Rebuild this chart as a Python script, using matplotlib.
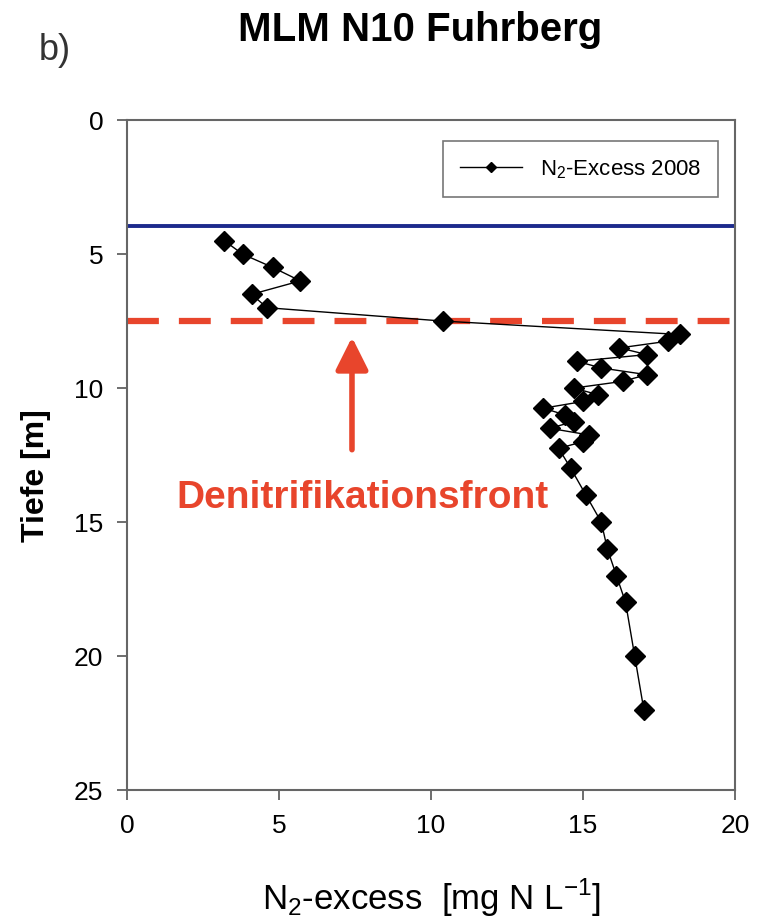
import numpy as np
import matplotlib as mpl
import matplotlib.pyplot as plt

mpl.rc('font', family=['Liberation Sans', 'DejaVu Sans'], size=18)

# N2-excess profile 2008 (mg N/L) against depth (m)
n2_excess = [3.2, 3.8, 4.8, 5.7, 4.1, 4.6, 10.4, 18.2, 17.8, 16.2, 17.1,
             14.8, 15.6, 17.1, 16.3, 14.7, 15.5, 15.0, 13.7, 14.4, 14.7,
             13.9, 15.2, 15.0, 14.2, 14.6, 15.1, 15.6, 15.8, 16.1, 16.4,
             16.7, 17.0]
depth = [4.5, 5.0, 5.5, 6.0, 6.5, 7.0, 7.5, 8.0, 8.25, 8.5, 8.75,
         9.0, 9.25, 9.5, 9.75, 10.0, 10.25, 10.5, 10.75, 11.0, 11.25,
         11.5, 11.75, 12.0, 12.25, 13.0, 14.0, 15.0, 16.0, 17.0, 18.0,
         20.0, 22.0]
water_table = 3.95
denit_front = 7.5
x_ticks = [0, 5, 10, 15, 20]
y_ticks = [0, 5, 10, 15, 20, 25]

red = '#e8452c'

fig = plt.figure(figsize=(7.67, 9.24), dpi=100)
ax = fig.add_axes([0.1656, 0.145, 0.7927, 0.725])

ax.axhline(water_table, color='#1c2a8c', lw=2.8, zorder=2)
ax.axhline(denit_front, color=red, lw=4.5, dashes=(5.1, 3.2), zorder=2)
ax.plot(n2_excess, depth, color='black', lw=1.0, marker='D', ms=10,
        label=r'N$_\mathregular{2}$-Excess 2008', zorder=3)

ax.annotate('', xy=(7.4, 8.1), xytext=(7.4, 12.3),
            arrowprops=dict(arrowstyle='-|>,head_length=1.1,head_width=0.55',
                            color=red, lw=4, shrinkA=0, shrinkB=0))
ax.text(7.75, 14.1, 'Denitrifikationsfront', color=red, fontsize=28,
        fontweight='bold', ha='center', va='center')

ax.set_xlim(0, 20)
ax.set_ylim(25, 0)
ax.set_xticks(x_ticks)
ax.set_yticks(y_ticks)
ax.tick_params(direction='out', length=7, width=1.2, color='#555555',
               labelsize=19, pad=10)
for s in ax.spines.values():
    s.set_color('#666666')
    s.set_linewidth(1.5)

ax.set_ylabel('Tiefe [m]', fontsize=23, fontweight='bold', labelpad=12)
ax.yaxis.set_label_coords(-0.125, 0.47)
ax.set_xlabel(r'N$_\mathregular{2}$-excess  [mg N L$^\mathregular{-1}$]',
              fontsize=25, labelpad=28)

leg = ax.legend(loc='upper right', fontsize=16, frameon=True, fancybox=False,
                markerscale=0.55, handlelength=2.8, borderpad=0.75,
                bbox_to_anchor=(0.99, 0.985))
leg.get_frame().set_edgecolor('#555555')
leg.get_frame().set_linewidth(1.2)

fig.text(0.548, 0.967, 'MLM N10 Fuhrberg', fontsize=29, fontweight='bold',
         ha='center', va='center')
fig.text(0.072, 0.945, 'b)', fontsize=26, ha='center', va='center',
         color='#333333')

fig.savefig('out.png', dpi=100)
